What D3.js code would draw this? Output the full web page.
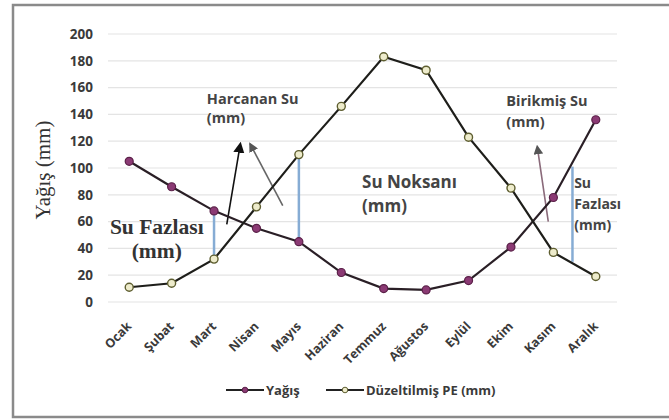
<!DOCTYPE html>
<meta charset="utf-8">
<script src="https://cdn.jsdelivr.net/npm/d3@7/dist/d3.min.js"></script>
<style>
    body { margin: 0; background: #fff; }
    text { font-family: "Open Sans", "DejaVu Sans", sans-serif; fill: #3a3a3a; }
    .tick text { font-weight: 700; font-size: 13.5px; }
    .grid line { stroke: #e4e4e4; stroke-width: 1.2px; }
    .note { font-weight: 700; fill: #444; }
    .serif { font-family: "Liberation Serif", "DejaVu Serif", serif; }
</style>
<body>
<script>
    // months and series
    var months = ["Ocak", "Şubat", "Mart", "Nisan", "Mayıs", "Haziran", "Temmuz",
        "Ağustos", "Eylül", "Ekim", "Kasım", "Aralık"];
    var yagis = [105, 86, 68, 55, 45, 22, 10, 9, 16, 41, 78, 136];
    var pe = [11, 14, 32, 71, 110, 146, 183, 173, 123, 85, 37, 19];
    var yTicks = [0, 20, 40, 60, 80, 100, 120, 140, 160, 180, 200];

    var width = 669, height = 420;
    var plotL = 108, plotR = 617, plotT = 34, plotB = 302;

    var svg = d3.select("body").append("svg")
        .attr("width", width)
        .attr("height", height);

    // frame (no right edge visible)
    svg.append("path")
        .attr("d", "M680,5 H13 V417 H680")
        .attr("fill", "none")
        .attr("stroke", "#8a8a8a")
        .attr("stroke-width", 2.5);

    var x = d3.scaleBand().domain(months).range([plotL, plotR]);
    var y = d3.scaleLinear().domain([0, 200]).range([plotB, plotT]);
    var cx = function (i) { return x(months[0]) + x.bandwidth() * (i + 0.5); };

    // gridlines
    svg.append("g").attr("class", "grid")
        .selectAll("line").data(yTicks).enter().append("line")
        .attr("x1", plotL).attr("x2", plotR)
        .attr("y1", function (d) { return y(d); })
        .attr("y2", function (d) { return y(d); });

    // y axis labels
    var ya = svg.append("g")
        .attr("transform", "translate(" + (plotL - 6) + ",0)")
        .call(d3.axisLeft(y).tickValues(yTicks).tickSize(0).tickPadding(9));
    ya.select(".domain").remove();

    // x axis labels, rotated
    var xa = svg.append("g")
        .attr("transform", "translate(0," + (plotB + 8) + ")")
        .call(d3.axisBottom(x).tickSize(0).tickPadding(0));
    xa.select(".domain").remove();
    xa.selectAll("text")
        .style("font-size", "12.5px")
        .attr("text-anchor", "end")
        .attr("dy", "0.35em")
        .attr("transform", "translate(0,14) rotate(-45)");

    // y title
    svg.append("text")
        .attr("class", "serif")
        .attr("transform", "translate(50,170) rotate(-90)")
        .attr("text-anchor", "middle")
        .style("font-size", "21px")
        .style("fill", "#333")
        .text("Yağış (mm)");

    // blue surplus / deficit bars
    var bars = [[2, 32, 68], [4, 45, 110], [10.45, 30, 101]];
    svg.append("g").selectAll("line").data(bars).enter().append("line")
        .attr("x1", function (d) { return cx(d[0]); })
        .attr("x2", function (d) { return cx(d[0]); })
        .attr("y1", function (d) { return y(d[1]); })
        .attr("y2", function (d) { return y(d[2]); })
        .attr("stroke", "#86acd4")
        .attr("stroke-width", 2.5);

    // arrows
    var defs = svg.append("defs");
    [["ab", "#111", 7], ["ag", "#555", 6]].forEach(function (m) {
        defs.append("marker")
            .attr("id", m[0])
            .attr("viewBox", "0 0 10 10")
            .attr("refX", 8).attr("refY", 5)
            .attr("markerWidth", m[2]).attr("markerHeight", m[2])
            .attr("orient", "auto")
            .append("path")
            .attr("d", "M0,0 L10,5 L0,10 z")
            .attr("fill", m[1]);
    });
    var arrows = [
        [2.3, 58, 2.62, 118, "#111", "ab"],
        [3.62, 72, 2.85, 118, "#666", "ag"],
        [9.88, 60, 9.62, 116, "#8a6a7a", "ag"]
    ];
    svg.append("g").selectAll("line").data(arrows).enter().append("line")
        .attr("x1", function (d) { return cx(d[0]); })
        .attr("y1", function (d) { return y(d[1]); })
        .attr("x2", function (d) { return cx(d[2]); })
        .attr("y2", function (d) { return y(d[3]); })
        .attr("stroke", function (d) { return d[4]; })
        .attr("stroke-width", 1.6)
        .attr("marker-end", function (d) { return "url(#" + d[5] + ")"; });

    // lines
    var line = d3.line()
        .x(function (d, i) { return cx(i); })
        .y(function (d) { return y(d); });

    svg.append("path").datum(yagis)
        .attr("d", line).attr("fill", "none")
        .attr("stroke", "#2a1f26").attr("stroke-width", 2.2);
    svg.append("path").datum(pe)
        .attr("d", line).attr("fill", "none")
        .attr("stroke", "#1e1e1a").attr("stroke-width", 2.2);

    svg.append("g").selectAll("circle").data(yagis).enter().append("circle")
        .attr("cx", function (d, i) { return cx(i); })
        .attr("cy", function (d) { return y(d); })
        .attr("r", 4)
        .attr("fill", "#8b3a74").attr("stroke", "#5a2048").attr("stroke-width", 1.2);
    svg.append("g").selectAll("circle").data(pe).enter().append("circle")
        .attr("cx", function (d, i) { return cx(i); })
        .attr("cy", function (d) { return y(d); })
        .attr("r", 4)
        .attr("fill", "#eeeccc").attr("stroke", "#5e5e30").attr("stroke-width", 1.4);

    // annotation text
    function note(xv, yv, lines, size, lh) {
        var t = svg.append("text").attr("class", "note")
            .attr("x", cx(xv)).attr("y", y(yv))
            .style("font-size", size + "px");
        lines.forEach(function (s, i) {
            t.append("tspan").attr("x", cx(xv)).attr("dy", i ? lh : 0).text(s);
        });
    }
    note(1.83, 148, ["Harcanan Su", "(mm)"], 14.5, 19);
    note(8.89, 146, ["Birikmiş Su", "(mm)"], 14.5, 21);
    note(5.49, 85, ["Su Noksanı", "(mm)"], 17, 24);
    note(10.49, 85, ["Su", "Fazlası", "(mm)"], 14, 21);
    svg.append("text").attr("class", "serif")
        .attr("x", cx(0.65)).attr("y", y(51))
        .attr("text-anchor", "middle")
        .style("font-size", "21.5px").style("font-weight", 700).style("fill", "#333")
        .selectAll("tspan").data(["Su Fazlası", "(mm)"]).enter().append("tspan")
        .attr("x", cx(0.65)).attr("dy", function (d, i) { return i ? 24 : 0; })
        .text(function (d) { return d; });

    // legend
    var legend = [["Yağış", "#8b3a74", "#5a2048", 226], ["Düzeltilmiş PE (mm)", "#eeeccc", "#5e5e30", 326]];
    var lg = svg.append("g").selectAll("g").data(legend).enter().append("g")
        .attr("transform", function (d) { return "translate(" + d[3] + ",390)"; });
    lg.append("line").attr("x1", 0).attr("x2", 38)
        .attr("stroke", "#222").attr("stroke-width", 2.2);
    lg.append("circle").attr("cx", 19).attr("r", 2.8)
        .attr("fill", function (d) { return d[1]; })
        .attr("stroke", function (d) { return d[2]; });
    lg.append("text").attr("x", 40).attr("dy", "0.35em")
        .style("font-size", "13px").style("font-weight", 700)
        .text(function (d) { return d[0]; });
</script>
</body>
